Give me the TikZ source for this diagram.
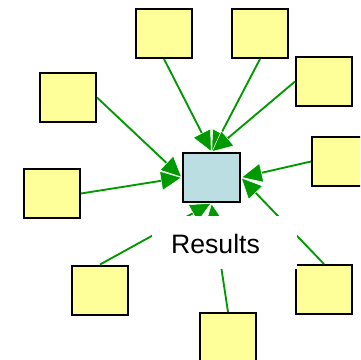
\documentclass[tikz,border=0pt]{standalone}
\usepackage{fontspec}
\setmainfont{Liberation Sans}
\usetikzlibrary{arrows.meta}
\definecolor{boxyellow}{RGB}{255,255,153}
\definecolor{hubblue}{RGB}{187,222,227}
\definecolor{linkgreen}{RGB}{0,153,0}
\tikzset{
  leaf/.style={draw=black, line width=1.5pt, fill=boxyellow,
    minimum width=42pt, minimum height=36.75pt, inner sep=0pt},
  hub/.style={leaf, fill=hubblue, minimum width=42.75pt},
  link/.style={draw=linkgreen, line width=1.4pt,
    -{Triangle[length=16pt, width=15pt, fill=linkgreen, color=white, line width=0.4pt]}},
  caption/.style={font=\fontsize{20}{24}\selectfont, inner sep=0pt}
}
\begin{document}
\begin{tikzpicture}[x=0.75pt, y=-0.75pt]
  \useasboundingbox (0,0) rectangle (360,360);
  \clip (0,0) rectangle (360,360);

  % hub and surrounding boxes
  \node[hub]  (c)  at (211.5,177.5) {};
  \node[leaf] (t1) at (164,33.5) {};
  \node[leaf] (t2) at (260,33.5) {};
  \node[leaf] (rt) at (324,81.5) {};
  \node[leaf] (lt) at (68,97.5) {};
  \node[leaf] (lm) at (52,193.5) {};
  \node[leaf] (lb) at (100,290) {};
  \node[leaf] (b)  at (228,337.5) {};
  \node[leaf] (rb) at (324,289.5) {};
  \node[leaf] (rm) at (340,161.5) {};

  % connectors into the hub
  \draw[link] (t1.south) -- (c.north);
  \draw[link] (t2.south) -- (c.north);
  \draw[link] (rt.west)  -- (c.north);
  \draw[link] (lt.east)  -- (c.west);
  \draw[link] (lm.east)  -- (c.west);
  \draw[link] (lb.north) -- (c.south);
  \draw[link] (b.north)  -- (c.south);
  \draw[link] (rb.north) -- (c.east);
  \draw[link] (rm.west)  -- (c.east);

  % label with its white backing
  \fill[white] (152,216) rectangle (297,269);
  \node[caption, anchor=base] (results) at (215.5,253) {Results};
\end{tikzpicture}
\end{document}
